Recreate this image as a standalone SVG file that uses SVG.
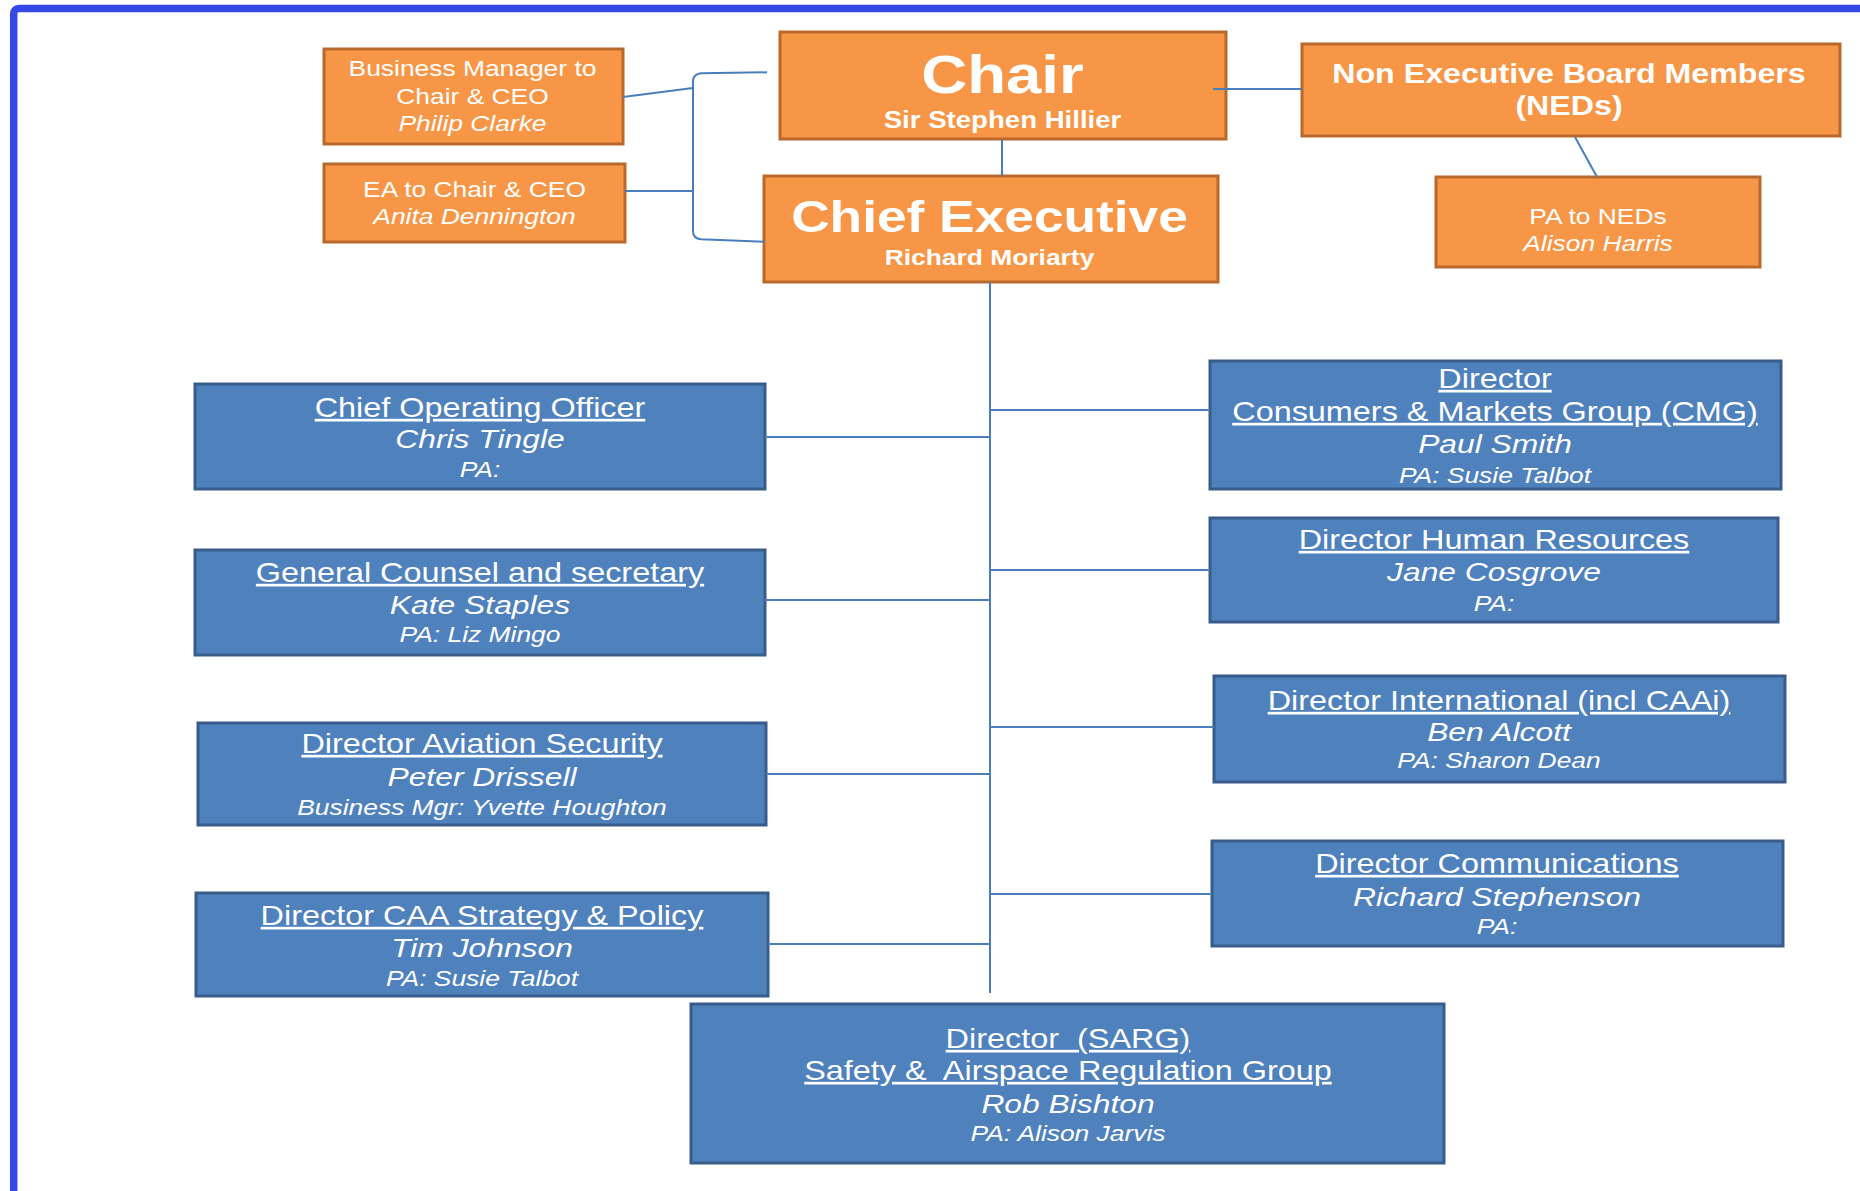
<svg xmlns="http://www.w3.org/2000/svg" width="1860" height="1191" viewBox="0 0 1860 1191">
<style>
.frame{fill:none;stroke:#3548e6;stroke-width:7.5}
.ob{fill:#f79646;stroke:#b9692c;stroke-width:3}
.bb{fill:#4f81bd;stroke:#385d8a;stroke-width:3}
text{font-family:"Liberation Sans",Arial,sans-serif;fill:#ffffff;text-anchor:middle}
.b{font-weight:bold}
.o{font-size:22px}
.oi{font-size:22px;font-style:italic}
.h{font-size:27px;text-decoration:underline}
.n{font-size:26.5px;font-style:italic}
.p{font-size:22px;font-style:italic}
.con{fill:none;stroke:#4a7ebb;stroke-width:2}
</style>
<rect width="1860" height="1191" fill="#ffffff"/>
<rect class="frame" x="13.7" y="8.5" width="1900" height="1250" rx="5"/>

<g id="business-manager">
<rect class="ob" x="324" y="49" width="299" height="95"/>
<g transform="translate(472.5 0) scale(1.2 1)">
<text class="o" y="76">Business Manager to</text>
<text class="o" y="104">Chair &amp; CEO</text>
<text class="oi" y="131">Philip Clarke</text>
</g>
</g>

<g id="ea">
<rect class="ob" x="324" y="164" width="301" height="78"/>
<g transform="translate(474.5 0) scale(1.2 1)">
<text class="o" y="197">EA to Chair &amp; CEO</text>
<text class="oi" y="224">Anita Dennington</text>
</g>
</g>

<g id="chair">
<rect class="ob" x="780" y="32" width="446" height="107"/>
<g transform="translate(1002.5 0) scale(1.2 1)">
<text class="b" y="93" font-size="53">Chair</text>
<text class="b" y="128" font-size="23">Sir Stephen Hillier</text>
</g>
</g>

<g id="chief-executive">
<rect class="ob" x="764" y="176" width="454" height="106"/>
<g transform="translate(989.5 0) scale(1.2 1)">
<text class="b" y="232" font-size="44.4">Chief Executive</text>
<text class="b" y="265" font-size="22">Richard Moriarty</text>
</g>
</g>

<g id="neds">
<rect class="ob" x="1302" y="44" width="538" height="92"/>
<g transform="translate(1569 0) scale(1.2 1)">
<text class="b" y="83" font-size="26.8">Non Executive Board Members</text>
<text class="b" y="115" font-size="26.8">(NEDs)</text>
</g>
</g>

<g id="pa-neds">
<rect class="ob" x="1436" y="177" width="324" height="90"/>
<g transform="translate(1598 0) scale(1.2 1)">
<text class="o" y="224">PA to NEDs</text>
<text class="oi" y="251">Alison Harris</text>
</g>
</g>

<g id="coo">
<rect class="bb" x="195" y="384" width="570" height="105"/>
<g transform="translate(480 0) scale(1.2 1)">
<text class="h" y="417">Chief Operating Officer</text>
<text class="n" y="448">Chris Tingle</text>
<text class="p" y="477">PA:</text>
</g>
</g>

<g id="general-counsel">
<rect class="bb" x="195" y="550" width="570" height="105"/>
<g transform="translate(480 0) scale(1.2 1)">
<text class="h" y="582">General Counsel and secretary</text>
<text class="n" y="614">Kate Staples</text>
<text class="p" y="642">PA: Liz Mingo</text>
</g>
</g>

<g id="aviation-security">
<rect class="bb" x="198" y="723" width="568" height="102"/>
<g transform="translate(482 0) scale(1.2 1)">
<text class="h" y="753">Director Aviation Security</text>
<text class="n" y="786">Peter Drissell</text>
<text class="p" y="815">Business Mgr: Yvette Houghton</text>
</g>
</g>

<g id="strategy-policy">
<rect class="bb" x="196" y="893" width="572" height="103"/>
<g transform="translate(482 0) scale(1.2 1)">
<text class="h" y="925">Director CAA Strategy &amp; Policy</text>
<text class="n" y="957">Tim Johnson</text>
<text class="p" y="986">PA: Susie Talbot</text>
</g>
</g>

<g id="cmg">
<rect class="bb" x="1210" y="361" width="571" height="128"/>
<g transform="translate(1495 0) scale(1.2 1)">
<text class="h" y="388">Director</text>
<text class="h" y="421">Consumers &amp; Markets Group (CMG)</text>
<text class="n" y="453">Paul Smith</text>
<text class="p" y="483">PA: Susie Talbot</text>
</g>
</g>

<g id="hr">
<rect class="bb" x="1210" y="518" width="568" height="104"/>
<g transform="translate(1494 0) scale(1.2 1)">
<text class="h" y="549">Director Human Resources</text>
<text class="n" y="581">Jane Cosgrove</text>
<text class="p" y="611">PA:</text>
</g>
</g>

<g id="international">
<rect class="bb" x="1214" y="676" width="571" height="106"/>
<g transform="translate(1499 0) scale(1.2 1)">
<text class="h" y="710">Director International (incl CAAi)</text>
<text class="n" y="741">Ben Alcott</text>
<text class="p" y="768">PA: Sharon Dean</text>
</g>
</g>

<g id="communications">
<rect class="bb" x="1212" y="841" width="571" height="105"/>
<g transform="translate(1497 0) scale(1.2 1)">
<text class="h" y="873">Director Communications</text>
<text class="n" y="906">Richard Stephenson</text>
<text class="p" y="934">PA:</text>
</g>
</g>

<g id="sarg">
<rect class="bb" x="691" y="1004" width="753" height="159"/>
<g transform="translate(1068 0) scale(1.2 1)">
<text class="h" y="1048" xml:space="preserve">Director  (SARG)</text>
<text class="h" y="1080" xml:space="preserve">Safety &amp;  Airspace Regulation Group</text>
<text class="n" y="1113">Rob Bishton</text>
<text class="p" y="1141">PA: Alison Jarvis</text>
</g>
</g>

<g id="connectors" class="con">
<path d="M767 72.3 L701 73.3 Q693 74.5 693 81 L693 231 Q693 238.5 701 239.3 L765 241.7"/>
<path d="M623 97 L693 88"/>
<path d="M625 191 H693"/>
<path d="M1213 89 H1302"/>
<path d="M1002 139 V176"/>
<path d="M1575 137 L1597 177"/>
<path d="M990 282 V993"/>
<path d="M765 437 H990"/>
<path d="M765 600 H990"/>
<path d="M766 774 H990"/>
<path d="M768 944 H990"/>
<path d="M990 410 H1210"/>
<path d="M990 570 H1210"/>
<path d="M990 727 H1214"/>
<path d="M990 894 H1212"/>
</g>
</svg>
